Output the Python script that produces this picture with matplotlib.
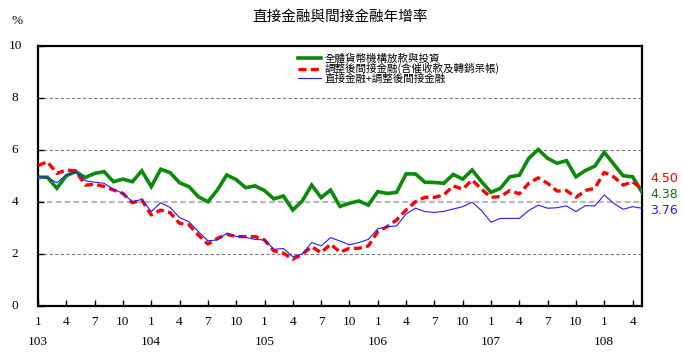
import matplotlib
matplotlib.use('Agg')
import matplotlib.pyplot as plt
import matplotlib.transforms as mtransforms

# ---- data ----
years = ['103', '104', '105', '106', '107', '108']
month_labels = ['1', '4', '7', '10']
series_names = ['全體貨幣機構放款與投資',
                '調整後間接金融(含催收款及轉銷呆帳)',
                '直接金融+調整後間接金融']

total_credit = [4.95, 4.95, 4.53, 5.01, 5.17, 4.94, 5.10, 5.17, 4.78, 4.88, 4.78,
                5.20, 4.59, 5.26, 5.13, 4.74, 4.59, 4.20, 4.01, 4.46, 5.04, 4.86,
                4.55, 4.62, 4.44, 4.12, 4.23, 3.69, 4.04, 4.65, 4.17, 4.46, 3.83,
                3.95, 4.04, 3.88, 4.40, 4.33, 4.37, 5.08, 5.08, 4.76, 4.75,
                4.72, 5.06, 4.88, 5.23, 4.78, 4.37, 4.53, 4.97, 5.03, 5.68, 6.02,
                5.68, 5.49, 5.59, 4.97, 5.21, 5.38, 5.91, 5.46, 5.01, 4.97, 4.38]

indirect_adj = [5.40, 5.55, 5.10, 5.23, 5.20, 4.65, 4.68, 4.60, 4.46, 4.33, 3.97,
                4.08, 3.50, 3.69, 3.59, 3.18, 3.12, 2.73, 2.38, 2.60, 2.76, 2.67,
                2.67, 2.67, 2.54, 2.12, 2.03, 1.80, 1.99, 2.28, 2.05, 2.38, 2.07,
                2.22, 2.22, 2.31, 2.86, 3.05, 3.31, 3.69, 4.01, 4.18, 4.18,
                4.27, 4.62, 4.49, 4.85, 4.49, 4.18, 4.21, 4.44, 4.31, 4.72, 4.93,
                4.72, 4.42, 4.44, 4.18, 4.44, 4.53, 5.14, 4.97, 4.65, 4.78, 4.50]

direct_plus = [5.00, 4.95, 4.74, 5.04, 5.17, 4.82, 4.76, 4.72, 4.49, 4.33, 4.01,
               4.10, 3.63, 3.97, 3.79, 3.40, 3.24, 2.86, 2.51, 2.54, 2.79, 2.68,
               2.64, 2.56, 2.54, 2.18, 2.21, 1.90, 2.00, 2.44, 2.31, 2.63, 2.50,
               2.35, 2.44, 2.56, 2.97, 3.05, 3.08, 3.54, 3.76, 3.63, 3.60,
               3.64, 3.73, 3.82, 3.99, 3.67, 3.22, 3.37, 3.37, 3.37, 3.67, 3.88,
               3.76, 3.78, 3.85, 3.63, 3.86, 3.85, 4.27, 3.95, 3.72, 3.82, 3.76]

x = list(range(len(total_credit)))

CJK = ['Noto Sans CJK TC', 'DejaVu Sans']
SERIF = 'Liberation Serif'

fig = plt.figure(figsize=(6.83, 3.55), dpi=100)
ax = fig.add_axes([38 / 683, 1 - 306 / 355, 604 / 683, 260 / 355])

green = '#0b8a0b'
red = '#ff0000'
blue = '#2020ff'

l1, = ax.plot(x, total_credit, color=green, lw=2.6, solid_joinstyle='miter', zorder=3)
l2, = ax.plot(x, indirect_adj, color=red, lw=2.4, linestyle=(0, (2.4, 1.3)), zorder=4)
l3, = ax.plot(x, direct_plus, color=blue, lw=0.8, zorder=5)

ax.set_xlim(0, len(x) - 1)
ax.set_ylim(0, 10)

# grid
for yv in [2, 6, 8]:
    ax.axhline(yv, color='#808080', lw=0.8, linestyle=(0, (3, 2)), zorder=1)
ax.axhline(4, color='#b8b8b8', lw=1.6, linestyle=(0, (2.5, 1.5)), zorder=1)

for s in ax.spines.values():
    s.set_linewidth(1.6)
    s.set_color('black')

# y ticks
yticks = [0, 2, 4, 6, 8, 10]
ax.set_yticks(yticks)
ax.set_yticklabels([])
ax.tick_params(axis='y', direction='in', length=4, width=1)
ytrans = mtransforms.blended_transform_factory(ax.transAxes, ax.transData)
for yv in yticks:
    ax.text(-23 / 604, yv, str(yv), transform=ytrans, ha='center', va='center',
            fontsize=9.5, family=SERIF)

# x ticks
xt = list(range(0, len(x), 3))
ax.set_xticks(xt)
ax.set_xticklabels([month_labels[(i // 3) % 4] for i in xt], family=SERIF, fontsize=9.5)
ax.tick_params(axis='x', direction='in', length=4, width=1, pad=7)
xtrans = mtransforms.blended_transform_factory(ax.transData, ax.transAxes)
for k, yr in enumerate(years):
    ax.text(12 * k, -36 / 260, yr, transform=xtrans, ha='center', va='center',
            fontsize=9.5, family=SERIF)

# end labels
ax.text(1 + 8 / 604, (306 - 178) / 260, f'{indirect_adj[-1]:.2f}', transform=ax.transAxes,
        color=red, fontsize=9, ha='left', va='center')
ax.text(1 + 8 / 604, (306 - 194) / 260, f'{total_credit[-1]:.2f}', transform=ax.transAxes,
        color='#1a6a1a', fontsize=9, ha='left', va='center')
ax.text(1 + 8 / 604, (306 - 210) / 260, f'{direct_plus[-1]:.2f}', transform=ax.transAxes,
        color=blue, fontsize=9, ha='left', va='center')

# title and unit
fig.text(340 / 683, 1 - 17 / 355, '直接金融與間接金融年增率', ha='center', va='center',
         fontsize=10.5, family=CJK)
fig.text(17 / 683, 1 - 21 / 355, '%', ha='center', va='center', fontsize=9.5, family=SERIF)

leg = ax.legend([l1, l2, l3], series_names, loc='upper left',
                bbox_to_anchor=(0.427, 0.978), frameon=False,
                prop={'family': CJK, 'size': 7.6}, handlelength=2.2,
                handletextpad=0.3, labelspacing=-0.08, borderaxespad=0, borderpad=0.2)

fig.savefig('out.png', dpi=100)
